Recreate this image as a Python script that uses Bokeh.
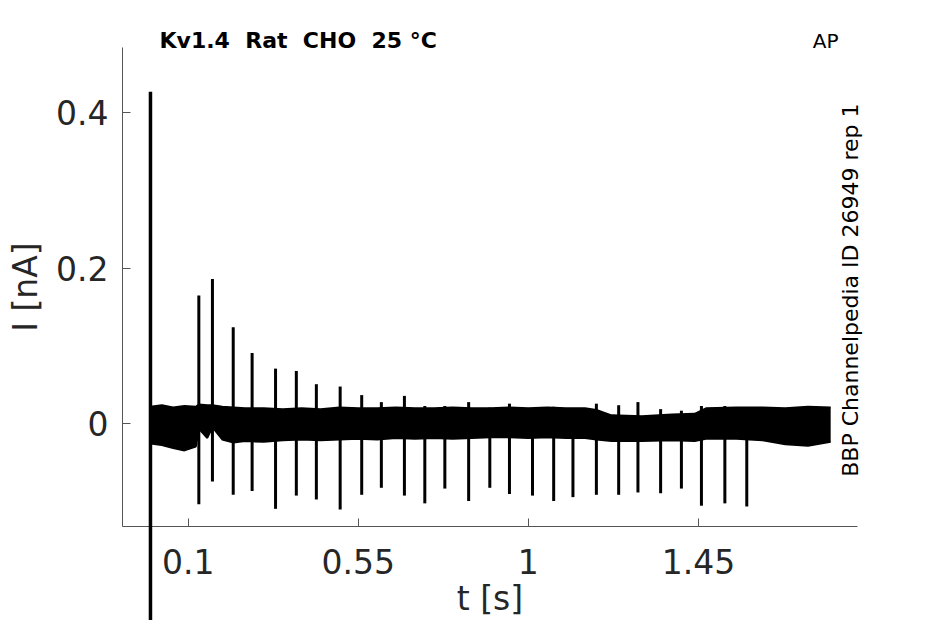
from bokeh.plotting import figure
from bokeh.models import Range1d, FixedTicker, ColumnDataSource
from bokeh.core.properties import value
from bokeh.embed import file_html
from bokeh.resources import INLINE
import math

# ---- data ----
band_t = [0.0, 0.03, 0.06, 0.09, 0.12, 0.128, 0.15, 0.164, 0.19, 0.22, 0.25, 0.30,
          0.35, 0.40, 0.45, 0.50, 0.55, 0.60, 0.65, 0.70, 0.75, 0.80, 0.85, 0.90,
          0.95, 1.00, 1.05, 1.10, 1.15, 1.18, 1.22, 1.30, 1.38, 1.44, 1.47, 1.55,
          1.62, 1.68, 1.74, 1.80]
band_hi = [0.022, 0.024, 0.021, 0.023, 0.022, 0.025, 0.024, 0.024, 0.022, 0.021, 0.020, 0.020,
           0.019, 0.020, 0.019, 0.021, 0.020, 0.020, 0.021, 0.020, 0.020, 0.021, 0.020, 0.020,
           0.021, 0.020, 0.021, 0.020, 0.020, 0.018, 0.011, 0.010, 0.012, 0.013, 0.020, 0.021,
           0.021, 0.020, 0.022, 0.021]
band_lo = [-0.025, -0.027, -0.031, -0.034, -0.029, -0.006, -0.018, -0.004, -0.020, -0.024, -0.022, -0.023,
           -0.021, -0.020, -0.021, -0.020, -0.019, -0.020, -0.018, -0.019, -0.018, -0.019, -0.018, -0.017,
           -0.017, -0.018, -0.017, -0.018, -0.018, -0.020, -0.022, -0.022, -0.021, -0.022, -0.019, -0.019,
           -0.021, -0.026, -0.028, -0.023]

spike_t = [0.128, 0.164, 0.219, 0.269, 0.331, 0.386, 0.439, 0.502, 0.559, 0.611, 0.672,
           0.726, 0.779, 0.842, 0.898, 0.950, 1.011, 1.067, 1.118, 1.180, 1.239, 1.290,
           1.350, 1.405, 1.458, 1.520, 1.578]
spike_peak = [0.165, 0.186, 0.124, 0.091, 0.071, 0.068, 0.051, 0.048, 0.037, 0.028, 0.036,
              0.023, 0.023, 0.028, 0.021, 0.026, 0.020, 0.022, 0.020, 0.026, 0.024, 0.028,
              0.019, 0.017, 0.023, 0.023, 0.020]
spike_trough = [-0.103, -0.074, -0.091, -0.086, -0.109, -0.092, -0.097, -0.110, -0.091, -0.082, -0.092,
                -0.102, -0.083, -0.099, -0.082, -0.090, -0.092, -0.099, -0.094, -0.091, -0.091, -0.088,
                -0.089, -0.083, -0.105, -0.102, -0.106]

transient_t = [0.0]
transient_top = [0.4265]
transient_bottom = [-0.30]

x_ticks = [0.1, 0.55, 1, 1.45]
x_tick_labels = ["0.1", "0.55", "1", "1.45"]
y_ticks = [0, 0.2, 0.4]
y_tick_labels = ["0", "0.2", "0.4"]

# double spaces kept with a no-break space (SVG collapses plain runs of spaces)
title_text = "Kv1.4\u00a0 Rat\u00a0 CHO\u00a0 25 \u00b0C"
protocol_text = "AP"
source_text = "BBP Channelpedia ID 26949 rep 1"

# ---- figure ----
p = figure(width=935, height=620, output_backend="svg", toolbar_location=None,
           x_range=Range1d(-0.074, 1.871), y_range=Range1d(-0.1317, 0.4833),
           min_border_left=122, min_border_right=78, min_border_top=47, min_border_bottom=93)
p.outline_line_color = None
p.xgrid.visible = False
p.ygrid.visible = False
p.background_fill_color = "white"
p.border_fill_color = "white"

FONT = "DejaVu Sans"
AX = "#555555"
TXT = "#262626"

for ax in (p.xaxis[0], p.yaxis[0]):
    ax.axis_line_color = AX
    ax.axis_line_width = 1
    ax.major_tick_line_color = AX
    ax.major_tick_in = 8
    ax.major_tick_out = 0
    ax.minor_tick_line_color = None
    ax.major_label_text_font = FONT
    ax.major_label_text_font_size = "33px"
    ax.major_label_text_color = TXT
    ax.axis_label_text_font = FONT
    ax.axis_label_text_font_size = "33px"
    ax.axis_label_text_color = TXT
    ax.axis_label_text_font_style = "normal"

p.xaxis.ticker = FixedTicker(ticks=x_ticks)
p.xaxis.major_label_overrides = {t: s for t, s in zip(x_ticks, x_tick_labels)}
p.xaxis.axis_label = "t [s]"
p.xaxis.major_label_standoff = 22
p.xaxis.axis_label_standoff = 2

p.yaxis.ticker = FixedTicker(ticks=y_ticks)
p.yaxis.major_label_overrides = {t: s for t, s in zip(y_ticks, y_tick_labels)}
p.yaxis.axis_label = "I [nA]"
p.yaxis.major_label_standoff = 14
p.yaxis.axis_label_standoff = 8

# noise band of overlaid sweeps
band_src = ColumnDataSource(dict(t=band_t, hi=band_hi, lo=band_lo))
p.varea(x="t", y1="lo", y2="hi", source=band_src, fill_color="black")
p.line(x="t", y="hi", source=band_src, line_color="black", line_width=2)
p.line(x="t", y="lo", source=band_src, line_color="black", line_width=2)

# action-potential evoked spikes
spike_src = ColumnDataSource(dict(t=spike_t, top=spike_peak, bot=spike_trough))
p.segment(x0="t", y0="bot", x1="t", y1="top", source=spike_src,
          line_color="black", line_width=3)

# capacitive transient at t = 0 (not clipped to the frame)
tr_src = ColumnDataSource(dict(t=transient_t, top=transient_top, bot=transient_bottom))
p.segment(x0="t", y0="bot", x1="t", y1="top", source=tr_src,
          line_color="black", line_width=3.5, level="overlay")

# texts (overlay level so they may sit outside the frame)
p.text(x=[0.024], y=[0.492], text=[title_text], text_font=value(FONT),
       text_font_size="22px", text_font_style="bold", text_color="black",
       text_align="left", text_baseline="middle", level="overlay")
p.text(x=[1.7525], y=[0.492], text=[protocol_text], text_font=value(FONT),
       text_font_size="20px", text_color="black",
       text_align="left", text_baseline="middle", level="overlay")
p.text(x=[1.853], y=[0.1718], text=[source_text], text_font=value(FONT),
       text_font_size="22px", text_color="black", angle=math.pi / 2,
       text_align="center", text_baseline="middle", level="overlay")

open("out.html", "w").write(file_html(p, INLINE))
